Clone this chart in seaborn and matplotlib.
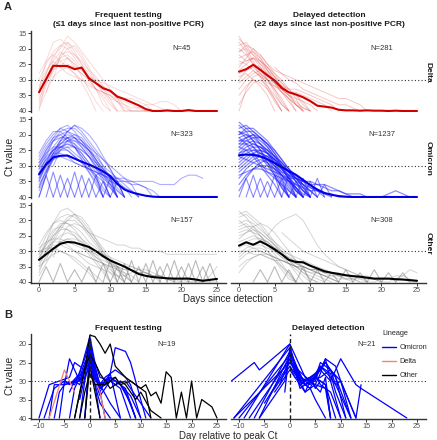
import matplotlib
matplotlib.use("Agg")
import matplotlib.pyplot as plt
from matplotlib.lines import Line2D
import seaborn as sns
import pandas as pd

sns.set_theme(style="white")
plt.rcParams["font.family"] = ["Liberation Sans", "DejaVu Sans"]

# ---------------- panel A data ----------------
days_a = list(range(26))

mean_delta_freq = [34.0, 29.8, 25.5, 25.6, 25.6, 26.6, 26.1, 29.5, 31.1, 32.7, 33.5, 35.4, 36.2,
                   37.2, 38.2, 39.4, 40.0, 40.0, 39.8, 40.0, 40.0, 39.7, 40.0, 40.0, 40.0, 40.0]
mean_delta_del = [27.4, 26.6, 25.2, 26.8, 28.6, 30.2, 32.6, 34.0, 34.7, 35.6, 36.8, 38.3, 38.6,
                  38.9, 39.6, 39.8, 39.8, 39.9, 39.8, 39.9, 39.9, 40.0, 39.9, 40.0, 40.0, 40.0]
mean_omi_freq = [32.7, 29.5, 27.3, 26.8, 26.7, 27.7, 28.7, 29.6, 30.6, 31.8, 33.3, 35.8, 37.6,
                 38.5, 39.1, 39.6, 39.9, 40.0, 40.0, 40.0, 40.0, 40.0, 40.0, 40.0, 40.0, 40.0]
mean_omi_del = [26.6, 26.4, 26.5, 27.0, 27.9, 29.1, 30.4, 31.7, 32.9, 34.5, 36.2, 37.6, 38.7,
                39.3, 39.7, 39.9, 40.0, 40.0, 40.0, 40.0, 40.0, 40.0, 40.0, 40.0, 40.0, 40.0]
mean_oth_freq = [32.8, 31.0, 29.2, 27.6, 27.0, 27.2, 27.9, 28.6, 30.0, 31.6, 33.0, 34.0, 35.0,
                 36.2, 37.4, 38.0, 38.4, 38.6, 38.8, 38.9, 38.9, 38.9, 39.2, 39.6, 39.3, 39.0]
mean_oth_del = [28.2, 27.1, 27.9, 26.8, 28.0, 29.4, 31.0, 32.8, 33.5, 33.6, 34.7, 35.6, 36.5,
                37.0, 37.4, 37.8, 38.1, 38.3, 38.6, 38.9, 38.9, 38.9, 39.1, 39.2, 39.4, 39.6]

# individual trajectories: (first day, daily Ct values)
traj_delta_freq = [
    (0, [33, 24, 18, 17, 19, 22, 25, 28, 31, 34, 37, 40]),
    (0, [35, 28, 22, 20, 16, 18, 21, 24, 27, 30, 33, 36, 40]),
    (0, [30, 25, 21, 19, 20, 23, 26, 30, 33, 35, 38, 40, 40, 40, 40, 40, 40, 40, 40, 40, 40, 40, 40, 40, 40, 40]),
    (0, [38, 32, 26, 22, 21, 22, 24, 27, 29, 32, 34, 36, 38, 40]),
    (0, [34, 29, 25, 23, 22, 24, 27, 29, 31, 33, 35, 37, 39, 40, 40, 40, 40, 40, 40, 40, 40, 40, 40, 40, 40, 40]),
    (0, [40, 30, 24, 21, 23, 26, 28, 30, 33, 36, 40]),
    (0, [28, 24, 22, 24, 26, 28, 30, 32, 33, 34, 35, 36, 37, 38, 39, 40]),
    (0, [36, 31, 27, 25, 25, 26, 28, 30, 31, 32, 34, 35, 36, 36, 37, 38, 40]),
    (1, [34, 27, 23, 20, 19, 22, 26, 30, 33, 36, 40]),
    (0, [32, 27, 24, 26, 28, 29, 30, 31, 33, 34, 36, 37, 38, 39, 39, 38, 38, 37, 37, 38, 40]),
    (0, [37, 30, 26, 24, 23, 25, 29, 33, 37, 40]),
    (2, [30, 22, 18, 21, 25, 29, 33, 38, 40]),
    (0, [33, 28, 23, 19, 18, 20, 23, 27, 31, 34, 35, 37, 40, 40, 40, 40, 40, 40, 40, 40, 40, 40, 40]),
    (3, [26, 23, 25, 27, 29, 30, 31, 32, 33, 34, 35, 36, 37, 38, 39, 40, 40, 40, 40, 40, 40, 40, 40]),
    (0, [39, 34, 29, 27, 26, 28, 31, 35, 40]),
]
traj_delta_del = [
    (0, [17, 19, 22, 25, 28, 31, 34, 37, 40]),
    (0, [19, 18, 21, 23, 26, 29, 32, 35, 38, 40]),
    (0, [21, 20, 22, 24, 27, 29, 31, 33, 36, 40]),
    (0, [23, 22, 21, 24, 26, 29, 33, 36, 40]),
    (0, [16, 20, 24, 28, 32, 36, 40]),
    (0, [25, 24, 23, 25, 27, 30, 32, 34, 35, 37, 40]),
    (0, [27, 25, 23, 24, 26, 28, 30, 33, 35, 38, 40]),
    (0, [20, 22, 25, 27, 30, 33, 36, 40]),
    (0, [30, 27, 25, 26, 28, 31, 33, 35, 36, 37, 38, 40]),
    (0, [22, 24, 23, 26, 30, 34, 38, 40]),
    (0, [33, 30, 28, 27, 29, 31, 33, 35, 37, 39, 40]),
    (0, [28, 27, 26, 28, 30, 32, 34, 36, 38, 40]),
    (0, [18, 21, 25, 29, 33, 37, 40]),
    (0, [24, 25, 27, 29, 30, 31, 32, 33, 33, 34, 35, 36, 37, 38, 40]),
    (0, [35, 32, 30, 31, 33, 36, 40]),
    (0, [26, 23, 20, 22, 25, 28, 31, 34, 38, 40]),
    (0, [31, 29, 27, 29, 31, 32, 33, 34, 34, 35, 36, 37, 38, 40]),
    (0, [38, 34, 31, 30, 32, 35, 38, 40]),
    (3, [22, 25, 27, 28, 29, 30, 31, 32, 33, 34, 35, 36, 36, 37, 38, 40]),
    (0, [29, 28, 30, 32, 35, 40]),
    (0, [40, 33, 29, 28, 30, 33, 37, 40]),
    (0, [21, 19, 20, 23, 27, 31, 34, 36, 38, 39, 40]),
    (5, [26, 28, 30, 31, 33, 34, 35, 36, 37, 38, 38, 39, 40]),
]
traj_omi_freq = [
    (0, [30, 25, 21, 18, 17, 19, 22, 25, 29, 33, 37, 40]),
    (0, [33, 27, 22, 19, 18, 18, 20, 23, 26, 30, 34, 38, 40]),
    (0, [35, 29, 24, 21, 20, 21, 23, 26, 29, 32, 35, 40]),
    (0, [28, 24, 21, 20, 22, 24, 27, 30, 33, 37, 40]),
    (0, [37, 31, 26, 22, 19, 17, 19, 22, 25, 28, 31, 35, 40]),
    (0, [32, 28, 25, 23, 22, 23, 25, 27, 30, 33, 36, 40]),
    (0, [40, 33, 27, 23, 21, 21, 23, 25, 28, 31, 34, 37, 40]),
    (0, [29, 26, 24, 24, 25, 27, 29, 31, 33, 35, 37, 40]),
    (0, [34, 30, 26, 24, 23, 24, 26, 29, 32, 34, 36, 38, 40]),
    (0, [31, 26, 22, 20, 19, 20, 22, 25, 28, 31, 34, 40]),
    (0, [36, 32, 28, 25, 24, 24, 25, 27, 29, 31, 33, 35, 37, 40]),
    (0, [27, 23, 20, 18, 19, 21, 24, 27, 31, 35, 40]),
    (0, [33, 29, 25, 22, 21, 22, 24, 27, 30, 34, 40]),
    (0, [38, 33, 28, 24, 22, 22, 23, 25, 27, 30, 32, 34, 36, 38, 40]),
    (0, [30, 27, 25, 24, 24, 26, 28, 31, 34, 38, 40]),
    (0, [35, 30, 27, 25, 25, 27, 29, 32, 35, 40]),
    (1, [32, 26, 22, 19, 17, 18, 20, 23, 27, 31, 35, 40]),
    (0, [29, 25, 22, 21, 21, 23, 26, 29, 31, 33, 35, 36, 37, 38, 40]),
    (0, [34, 29, 26, 26, 27, 29, 30, 31, 32, 33, 34, 34, 35, 35, 36, 37, 40]),
    (0, [31, 28, 25, 23, 21, 20, 21, 24, 28, 32, 36, 40]),
    (0, [37, 32, 27, 24, 23, 24, 27, 30, 34, 40]),
    (0, [26, 22, 19, 19, 21, 24, 28, 32, 36, 40]),
    (2, [30, 25, 22, 21, 22, 24, 26, 28, 30, 32, 34, 36, 40]),
    (0, [33, 30, 28, 27, 28, 29, 30, 31, 32, 33, 34, 35, 35, 36, 36, 37, 38, 40]),
    (8, [33, 32, 33, 34, 34, 35, 35, 35, 35, 36, 36, 36, 34, 33, 33, 34]),
]
traj_omi_del = [
    (0, [16, 18, 20, 23, 26, 29, 32, 35, 38, 40]),
    (0, [18, 17, 19, 21, 24, 27, 30, 33, 37, 40]),
    (0, [20, 19, 19, 21, 23, 26, 29, 32, 35, 38, 40]),
    (0, [22, 21, 20, 22, 24, 27, 30, 34, 38, 40]),
    (0, [24, 22, 21, 21, 23, 25, 28, 31, 34, 37, 40]),
    (0, [19, 21, 24, 27, 30, 33, 37, 40]),
    (0, [26, 24, 23, 24, 25, 27, 29, 32, 35, 38, 40]),
    (0, [21, 20, 22, 25, 28, 31, 35, 40]),
    (0, [28, 26, 25, 25, 26, 28, 30, 32, 34, 36, 38, 40]),
    (0, [23, 23, 24, 26, 28, 30, 33, 36, 40]),
    (0, [30, 28, 26, 25, 26, 28, 31, 34, 37, 40]),
    (0, [17, 19, 22, 25, 29, 33, 37, 40]),
    (0, [25, 23, 22, 23, 25, 28, 31, 34, 36, 38, 40]),
    (0, [32, 30, 28, 27, 27, 28, 30, 32, 34, 36, 38, 40]),
    (0, [27, 25, 24, 24, 26, 29, 33, 37, 40]),
    (0, [20, 18, 18, 20, 22, 25, 28, 31, 34, 37, 40]),
    (0, [34, 31, 29, 28, 29, 31, 33, 35, 37, 40]),
    (0, [22, 22, 23, 24, 26, 28, 30, 32, 34, 35, 37, 38, 40]),
    (0, [29, 27, 26, 27, 29, 32, 36, 40]),
    (0, [24, 25, 27, 30, 33, 36, 40]),
    (0, [36, 33, 31, 30, 30, 31, 33, 35, 37, 39, 40]),
    (0, [19, 20, 21, 23, 25, 27, 29, 31, 33, 36, 40]),
    (0, [26, 25, 25, 26, 27, 29, 31, 33, 35, 36, 37, 38, 39, 40]),
    (0, [31, 29, 27, 26, 27, 30, 34, 38, 40]),
    (0, [38, 34, 31, 29, 28, 29, 31, 34, 38, 40]),
    (0, [23, 21, 20, 21, 23, 26, 30, 35, 40]),
    (0, [27, 28, 29, 30, 31, 32, 33, 34, 34, 35, 35, 36, 36, 37, 38, 39, 40]),
    (0, [33, 32, 31, 31, 32, 33, 34, 35, 36, 37, 38, 38, 39, 39, 40, 40, 40, 40, 40, 40, 40, 40, 40, 40, 40, 40]),
    (4, [28, 30, 32, 33, 34, 35, 36, 36, 37, 38, 38, 39, 39, 39, 40, 40, 40, 39, 38, 39, 40]),
    (0, [21, 23, 26, 29, 32, 34, 36, 38, 40]),
]
traj_oth_freq = [
    (0, [33, 27, 21, 17, 16, 18, 21, 24, 27, 30, 33, 36, 40]),
    (0, [30, 25, 21, 19, 18, 19, 21, 24, 27, 31, 35, 40]),
    (0, [35, 30, 25, 22, 20, 20, 22, 25, 28, 31, 33, 35, 37, 40]),
    (0, [31, 28, 25, 23, 23, 24, 26, 28, 30, 32, 34, 36, 38, 40]),
    (0, [37, 31, 26, 22, 19, 18, 19, 22, 26, 30, 34, 38, 40]),
    (0, [32, 28, 24, 21, 21, 22, 24, 27, 29, 31, 32, 33, 34, 35, 36, 37, 38, 40]),
    (0, [29, 27, 26, 26, 27, 28, 29, 30, 31, 32, 33, 34, 35, 35, 36, 37, 38, 38, 39, 40]),
    (0, [34, 30, 27, 25, 24, 25, 27, 30, 33, 36, 40]),
    (0, [28, 24, 21, 20, 21, 23, 26, 29, 32, 34, 36, 38, 40]),
    (0, [36, 32, 29, 27, 26, 27, 28, 30, 32, 33, 34, 35, 36, 36, 37, 37, 38, 38, 39, 39, 40]),
    (0, [33, 30, 28, 28, 29, 30, 31, 32, 33, 34, 35, 36, 37, 38, 40]),
    (1, [33, 27, 23, 20, 18, 20, 23, 26, 29, 32, 35, 38, 40]),
    (0, [31, 27, 23, 22, 23, 25, 28, 31, 34, 37, 40]),
    (0, [38, 34, 30, 27, 26, 26, 27, 29, 31, 34, 37, 40]),
    (0, [30, 29, 29, 30, 31, 33, 35, 37, 40]),
    (2, [32, 26, 22, 21, 22, 24, 25, 26, 27, 28, 28, 29, 29, 30, 30, 30, 31, 31, 31, 31, 31, 31, 31, 31]),
    (0, [32, 29, 27, 27, 28, 30, 32, 34, 35, 36, 37, 38, 38, 37, 36, 36, 37, 38, 39, 40, 40, 40, 40, 40, 40, 40]),
    (0, [35, 33, 31, 30, 31, 32, 34, 36, 38, 40]),
    (5, [30, 31, 32, 33, 34, 35, 35, 36, 36, 37, 37, 38, 38, 39, 39, 39, 40, 40, 40, 38, 35]),
]
traj_oth_del = [
    (0, [17, 19, 22, 25, 28, 31, 34, 37, 40]),
    (0, [19, 18, 20, 22, 25, 28, 31, 33, 35, 37, 39, 40]),
    (0, [21, 20, 21, 23, 25, 27, 29, 31, 33, 35, 36, 37, 38, 39, 40]),
    (0, [23, 22, 22, 24, 26, 28, 30, 32, 34, 35, 36, 37, 38, 39, 40]),
    (0, [25, 24, 23, 24, 26, 28, 31, 34, 37, 40]),
    (0, [27, 26, 25, 26, 27, 29, 31, 32, 33, 34, 35, 36, 37, 37, 38, 38, 39, 39, 40]),
    (0, [29, 27, 26, 26, 27, 29, 31, 33, 34, 35, 36, 36, 37, 38, 38, 39, 39, 40]),
    (0, [31, 29, 28, 28, 29, 30, 32, 34, 36, 38, 40]),
    (0, [20, 22, 24, 27, 30, 33, 36, 39, 40]),
    (0, [33, 31, 30, 30, 31, 32, 33, 34, 35, 35, 36, 36, 37, 37, 38, 38, 38, 39, 39, 39, 40]),
    (0, [24, 23, 24, 25, 27, 29, 30, 31, 32, 33, 34, 35, 36, 37, 38, 39, 40]),
    (0, [35, 33, 32, 31, 31, 32, 33, 34, 35, 36, 37, 38, 39, 40]),
    (0, [26, 24, 22, 21, 22, 24, 27, 30, 33, 36, 39, 40]),
    (0, [28, 28, 29, 30, 31, 32, 33, 34, 35, 36, 37, 37, 38, 38, 39, 39, 39, 40, 40, 40, 39, 39, 38, 38, 39, 40]),
    (0, [22, 21, 23, 25, 28, 30, 32, 33, 34, 35, 36, 37, 38, 39, 40]),
    (0, [37, 34, 32, 31, 32, 33, 35, 37, 40]),
    (4, [25, 22, 20, 19, 18, 20, 24, 28, 31, 33, 35, 36, 37, 38, 40]),
    (0, [30, 30, 31, 31, 32, 33, 33, 34, 35, 35, 36, 36, 37, 37, 37, 38, 38, 38, 38, 39, 39, 39, 39, 39, 40, 40]),
    (0, [18, 17, 19, 21, 24, 27, 30, 33, 35, 37, 38, 39, 40]),
    (6, [24, 26, 28, 30, 31, 32, 33, 34, 35, 36, 37, 38, 39, 39, 40, 40, 39, 38, 36, 37]),
    (0, [32, 30, 29, 29, 30, 32, 35, 38, 40]),
]

# short positive blips (negative -> positive -> negative), first day and peak Ct
teeth_omi_freq_day = [0, 1, 2, 3, 4, 5, 6, 7, 8, 9, 10]
teeth_omi_freq_ct = [33, 32, 33, 34, 32, 33, 34, 33, 35, 34, 35]
teeth_omi_del_day = [0, 1, 2, 3, 4, 5, 6, 7, 8, 9, 10, 11]
teeth_omi_del_ct = [34, 33, 34, 35, 33, 34, 33, 35, 34, 35, 34, 36]
teeth_oth_freq_day = [0, 2, 4, 6, 8, 9, 10, 11, 12, 13, 14, 15, 16, 17, 18, 19, 20, 21, 22, 23]
teeth_oth_freq_ct = [35, 34, 36, 35, 34, 33, 35, 34, 33, 35, 34, 33, 35, 34, 33, 35, 34, 33, 35, 34]
teeth_oth_del_day = [2, 4, 6, 8, 10, 12, 14, 16, 18, 20, 22]
teeth_oth_del_ct = [36, 35, 36, 35, 36, 37, 36, 37, 36, 37, 37]

# ---------------- panel B data ----------------
peak_freq_blue = [
    ([-7, -6, -5, -3, -1, 0, 1, 2, 4, 6, 8, 9], [40, 33, 31, 30, 27, 20, 27, 31, 29, 31, 36, 40]),
    ([-5, -4, -3, -2, -1, 0, 1, 2, 3, 4, 6], [31, 24, 27, 30, 26, 21, 28, 33, 30, 28, 40]),
    ([-4, -3, -2, -1, 0, 1, 2, 4, 6, 8], [40, 32, 29, 25, 23, 30, 34, 30, 32, 40]),
    ([-3, -2, -1, 0, 1, 2, 3, 5, 7, 9], [30, 31, 27, 22, 28, 32, 30, 29, 33, 40]),
    ([-6, -5, -3, -1, 0, 1, 2, 4, 5, 7, 9], [40, 30, 31, 24, 19, 26, 32, 30, 30, 32, 40]),
    ([-2, -1, 0, 1, 2, 3], [40, 30, 24, 29, 33, 40]),
    ([-1, 0, 1, 3, 4, 5, 7, 8, 10], [40, 22, 30, 31, 28, 27, 29, 31, 40]),
    ([-4, -3, -1, 0, 1, 2, 3, 4, 5, 7, 8, 9, 11], [33, 30, 29, 21, 26, 31, 29, 28, 21, 22, 25, 30, 40]),
    ([-8, -7, -5, -2, -1, 0, 1, 3, 4, 6, 8, 10], [40, 31, 31, 30, 27, 23, 30, 31, 29, 31, 34, 40]),
    ([-10, -8, -6, -4, -3, -1, 0, 1, 2, 4, 6], [40, 31, 30, 29, 25, 27, 25, 29, 31, 36, 40]),
    ([-2, -1, 0, 1, 2, 4], [35, 29, 26, 31, 36, 40]),
    ([-9, -7, -5, -4, -2, 0, 1, 2, 4, 5, 7, 9, 12], [40, 32, 30, 31, 28, 18, 25, 29, 30, 31, 30, 34, 40]),
    ([-1, 0, 1, 2], [40, 24, 31, 40]),
]
peak_freq_black = [
    ([-3, -2, -1, 0, 1, 2, 3, 4, 5, 7, 9, 11, 12], [40, 33, 27, 17.6, 18, 20, 22.5, 20, 26, 29, 31, 33, 40]),
    ([-1, 0, 1, 2], [40, 26, 33, 40]),
    ([-2, -1, 0, 1, 3, 5, 6, 8, 10, 11, 12, 13, 14, 15, 16, 17, 18, 19, 20, 21, 22, 23, 24, 25],
     [40, 33, 28, 31, 31, 29, 31, 30, 32, 31, 34, 33, 36, 27.5, 29, 40, 33, 40, 30, 40, 35, 36, 37, 40]),
    ([-3, -1, 0, 1, 2, 4, 6, 7, 9, 10, 12, 14], [40, 27, 23, 25, 28, 32, 30, 31, 35, 33, 38, 40]),
]
peak_freq_delta = [
    ([-8, -5, -4, -3], [40, 27, 30, 33]),
    ([1, 2, 3], [30, 33, 40]),
]
peak_del_blue = [
    ([-11.5, -7, -6, 0, 1, 3, 5, 7, 9, 12], [30, 25, 27, 20, 27, 30, 28, 25, 29, 40]),
    ([-11, 0, 2, 4, 6, 7, 8, 10], [40, 21, 29, 31, 27, 24, 30, 40]),
    ([-10, 0, 1, 3, 5, 6, 8, 9, 11], [40, 23, 28, 31, 30, 26, 28, 33, 40]),
    ([-8, 0, 2, 4, 5, 7, 9], [40, 24, 30, 32, 29, 31, 40]),
    ([-6, -1, 0, 2, 3, 5, 6, 8, 10, 12], [40, 30, 22, 28, 31, 29, 25, 27, 30, 40]),
    ([-5, 0, 1, 2, 4, 6, 7, 8], [36, 25, 27, 32, 30, 33, 29, 40]),
    ([-9, 0, 3, 5, 6, 7, 9, 10, 13], [40, 20, 29, 31, 28, 24, 26, 30, 40]),
    ([-4, 0, 2, 3, 5, 7, 8], [34, 26, 30, 33, 31, 32, 40]),
    ([-3, 0, 1, 4, 6, 7, 9, 11], [33, 27, 29, 30, 27, 25, 29, 40]),
    ([-7, 0, 1, 2, 4, 5, 7], [40, 22, 26, 30, 32, 35, 40]),
    ([-2, 0, 2, 3, 5, 6, 8, 10], [31, 24, 31, 30, 28, 31, 33, 40]),
    ([-11, 0, 4, 6, 8, 10, 13, 14, 23], [40, 25, 30, 27, 30, 24, 31, 32, 40]),
    ([-1, 0, 2, 4, 5, 6, 7, 8], [33, 21, 30, 29, 32, 30, 31, 40]),
    ([-6, 0, 3, 5, 6, 8, 9, 12], [40, 23, 31, 28, 26, 29, 31, 40]),
    ([0, 1, 3, 4, 6, 8, 9, 10, 13, 14], [26, 29, 33, 30, 29, 27, 31, 30, 40, 31]),
]

lineages = ["Omicron", "Delta", "Other"]
lineage_colors = {"Omicron": "#0000FF", "Delta": "#F8836F", "Other": "#000000"}

W, H = 437, 440
fig = plt.figure(figsize=(W / 100, H / 100), dpi=100)


def daily_frame(trajs):
    rows = []
    for i, (start, cts) in enumerate(trajs):
        for j, ct in enumerate(cts):
            rows.append({"traj": i, "day": start + j, "ct": ct})
    return pd.DataFrame(rows)


def teeth_frame(starts, peaks):
    rows = []
    for i, (d, p) in enumerate(zip(starts, peaks)):
        for j, ct in enumerate([40, p, 40]):
            rows.append({"traj": i, "day": d + j, "ct": ct})
    return pd.DataFrame(rows)


def explicit_frame(trajs, lineage, offset=0):
    rows = []
    for i, (ds, cts) in enumerate(trajs):
        for d, ct in zip(ds, cts):
            rows.append({"traj": offset + i, "day": d, "ct": ct, "lineage": lineage})
    return pd.DataFrame(rows)


def make_ax(xa_px, xb_px, xa, xb, xlim, ya_px, yb_px, ya, yb, ylim):
    sx = (xb_px - xa_px) / (xb - xa)
    sy = (yb_px - ya_px) / (yb - ya)
    left = xa_px + (xlim[0] - xa) * sx
    right = xa_px + (xlim[1] - xa) * sx
    top = ya_px + (ylim[1] - ya) * sy
    bottom = ya_px + (ylim[0] - ya) * sy
    ax = fig.add_axes([left / W, 1 - bottom / H, (right - left) / W, (bottom - top) / H])
    ax.set_xlim(*xlim)
    ax.set_ylim(*ylim)
    ax.patch.set_alpha(0)
    return ax


def style(ax, left=True, bottom=True):
    for sp in ["top", "right"]:
        ax.spines[sp].set_visible(False)
    ax.spines["left"].set_visible(left)
    ax.spines["bottom"].set_visible(bottom)
    for sp in ["left", "bottom"]:
        ax.spines[sp].set_color("#333333")
        ax.spines[sp].set_linewidth(1.0)
    ax.tick_params(length=2, width=0.7, colors="#333333", labelcolor="#4D4D4D",
                   labelsize=5.2, pad=1.2, left=left, labelleft=left,
                   bottom=bottom, labelbottom=bottom)
    ax.grid(False)
    ax.set_xlabel("")
    ax.set_ylabel("")


# ---------------- panel A ----------------
xlim_a = (-1.12, 26.26)
ylim_a = (40.3, 14.5)
cols_px = [(39, 217), (239, 417)]
rows_px = [(33, 111), (119, 197), (205, 282)]

panels = [
    [(traj_delta_freq, None, mean_delta_freq, "#E04848", "#D00000", 0.2, 0.7, "N=45"),
     (traj_delta_del, None, mean_delta_del, "#E04848", "#D00000", 0.3, 0.7, "N=281")],
    [(traj_omi_freq, (teeth_omi_freq_day, teeth_omi_freq_ct), mean_omi_freq, "#1A1AFF", "#0000E6", 0.35, 0.8, "N=323"),
     (traj_omi_del, (teeth_omi_del_day, teeth_omi_del_ct), mean_omi_del, "#1A1AFF", "#0000E6", 0.5, 0.9, "N=1237")],
    [(traj_oth_freq, (teeth_oth_freq_day, teeth_oth_freq_ct), mean_oth_freq, "#777777", "#000000", 0.3, 0.7, "N=157"),
     (traj_oth_del, (teeth_oth_del_day, teeth_oth_del_ct), mean_oth_del, "#777777", "#000000", 0.3, 0.7, "N=308")],
]
strip_labels = ["Delta", "Omicron", "Other"]

for r, (y15, y40) in enumerate(rows_px):
    for c, (x0, x25) in enumerate(cols_px):
        trajs, teeth, mean, lc, mc, alpha, lw, nlab = panels[r][c]
        ax = make_ax(x0, x25, 0, 25, xlim_a, y15, y40, 15, 40, ylim_a)
        sns.lineplot(data=daily_frame(trajs), x="day", y="ct", units="traj", estimator=None,
                     color=lc, alpha=alpha, lw=lw, ax=ax, legend=False)
        if teeth is not None:
            sns.lineplot(data=teeth_frame(*teeth), x="day", y="ct", units="traj", estimator=None,
                         color=lc, alpha=0.5, lw=0.8, ax=ax, legend=False)
        sns.lineplot(x=days_a, y=mean, color=mc, lw=1.5, ax=ax)
        ax.axhline(30, color="#333333", ls=(0, (1, 2)), lw=0.8)
        ax.text(20, 20, nlab, fontsize=5.5, color="#333333", ha="center", va="center")
        ax.set_xlim(*xlim_a)
        ax.set_ylim(*ylim_a)
        ax.set_yticks([15, 20, 25, 30, 35, 40])
        ax.set_xticks([0, 5, 10, 15, 20, 25])
        style(ax, left=(c == 0), bottom=(r == 2))
    fig.text(428 / W, 1 - ((y15 + y40) / 2) / H, strip_labels[r], rotation=270, fontsize=6,
             fontweight="bold", color="#1A1A1A", ha="center", va="center")

fig.text(4 / W, 1 - 7 / H, "A", fontsize=8, fontweight="bold", ha="left", va="center")
fig.text(128 / W, 1 - 15.7 / H, "Frequent testing", fontsize=6, fontweight="bold",
         color="#1A1A1A", ha="center", va="center")
fig.text(128 / W, 1 - 24.3 / H, "(\u22641 days since last non-positive PCR)", fontsize=6,
         fontweight="bold", color="#1A1A1A", ha="center", va="center")
fig.text(329 / W, 1 - 15.7 / H, "Delayed detection", fontsize=6, fontweight="bold",
         color="#1A1A1A", ha="center", va="center")
fig.text(329 / W, 1 - 24.3 / H, "(\u22652 days since last non-positive PCR)", fontsize=6,
         fontweight="bold", color="#1A1A1A", ha="center", va="center")
fig.text(10 / W, 1 - 157 / H, "Ct value", fontsize=7.5, rotation=90, ha="center", va="center")
fig.text(228 / W, 1 - 299 / H, "Days since detection", fontsize=7, ha="center", va="center")

# ---------------- panel B ----------------
xlim_b = (-11.57, 26.77)
ylim_b = (40.2, 17.3)
df_freq = pd.concat([
    explicit_frame(peak_freq_blue, "Omicron", 0),
    explicit_frame(peak_freq_delta, "Delta", 100),
    explicit_frame(peak_freq_black, "Other", 200),
])
df_del = explicit_frame(peak_del_blue, "Omicron", 0)

for c, (x0, x25) in enumerate(cols_px):
    ax = make_ax(x0, x25, -10, 25, xlim_b, 344, 418, 20, 40, ylim_b)
    df = df_freq if c == 0 else df_del
    sns.lineplot(data=df, x="day", y="ct", units="traj", estimator=None, hue="lineage",
                 palette=lineage_colors, lw=0.9, sort=False, ax=ax, legend=False)
    ax.axhline(30, color="#333333", ls=(0, (1, 2)), lw=0.8)
    ax.axvline(0, color="#1A1A1A", ls=(0, (3, 2)), lw=1.0)
    ax.text(15, 20, "N=19" if c == 0 else "N=21", fontsize=5.5, color="#333333",
            ha="center", va="center")
    ax.set_xlim(*xlim_b)
    ax.set_ylim(*ylim_b)
    ax.set_yticks([20, 25, 30, 35, 40])
    ax.set_xticks([-10, -5, 0, 5, 10, 15, 20, 25])
    style(ax, left=(c == 0), bottom=True)
    ax.set_title("Frequent testing" if c == 0 else "Delayed detection", fontsize=6,
                 fontweight="bold", color="#1A1A1A", pad=3)

fig.text(4 / W, 1 - 315 / H, "B", fontsize=8, fontweight="bold", ha="left", va="center")
fig.text(10 / W, 1 - 376 / H, "Ct value", fontsize=7.5, rotation=90, ha="center", va="center")
fig.text(228 / W, 1 - 435.5 / H, "Day relative to peak Ct", fontsize=7, ha="center", va="center")

handles = [Line2D([0], [0], color=lineage_colors[l], lw=1.0) for l in lineages]
leg = fig.legend(handles, lineages, title="Lineage", loc="upper left",
                 bbox_to_anchor=(382 / W, 1 - 330 / H), frameon=False, fontsize=5.3,
                 title_fontsize=5.3, handlelength=1.9, handletextpad=0.5,
                 labelspacing=0.95, alignment="left", borderaxespad=0, borderpad=0)

fig.savefig("out.png", dpi=100)
